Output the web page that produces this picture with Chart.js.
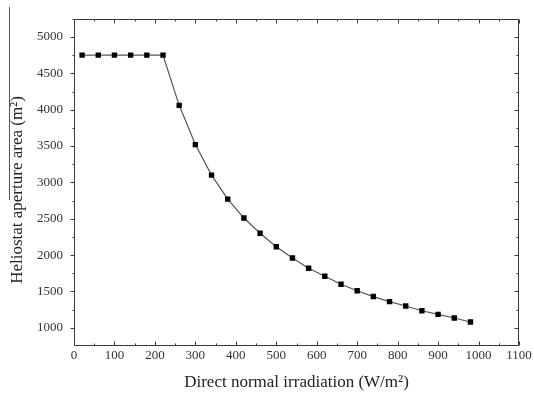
<!DOCTYPE html>
<html>
<head>
<meta charset="utf-8">
<script src="https://cdn.jsdelivr.net/npm/chart.js@4/dist/chart.umd.min.js"></script>
<style>
html,body{margin:0;padding:0;background:#fff;}
#wrap{width:534px;height:397px;position:relative;}
</style>
</head>
<body>
<div id="wrap"><canvas id="c" width="534" height="397"></canvas></div>
<script>
// Data
const dni = [20,60,100,140,180,220,260,300,340,380,420,460,500,540,580,620,660,700,740,780,820,860,900,940,980];
const area = [4750,4750,4750,4750,4750,4750,4060,3520,3100,2770,2510,2300,2115,1960,1820,1710,1600,1510,1430,1360,1300,1235,1185,1135,1080];
const xTicks = [0,100,200,300,400,500,600,700,800,900,1000,1100];
const yTicks = [1000,1500,2000,2500,3000,3500,4000,4500,5000];
const xTitle = 'Direct normal irradiation (W/m\u00B2)';
const yTitle = 'Heliostat aperture area (m\u00B2)';

const SERIF = '"Liberation Serif", "DejaVu Serif", serif';
const AXIS = '#3a3a3a';

const framePlugin = {
  id: 'frame',
  afterDraw(chart) {
    const ctx = chart.ctx;
    const a = chart.chartArea;
    const xs = chart.scales.x, ys = chart.scales.y;
    ctx.save();
    ctx.strokeStyle = AXIS;
    ctx.lineWidth = 1;
    const L = Math.round(a.left) + 0.5, R = Math.round(a.right) - 0.5;
    const T = Math.round(a.top) + 0.5, B = Math.round(a.bottom) - 0.5;
    ctx.beginPath();
    ctx.rect(L, T, R - L, B - T);
    ctx.stroke();
    ctx.beginPath();
    for (let v = xs.min; v <= xs.max; v += 50) {
      const px = Math.round(xs.getPixelForValue(v)) + 0.5;
      const len = (v % 100 === 0) ? 4 : 2;
      ctx.moveTo(px, B); ctx.lineTo(px, B - len);
      ctx.moveTo(px, T); ctx.lineTo(px, T + len);
    }
    for (let v = 1000; v <= ys.max; v += 250) {
      const py = Math.round(ys.getPixelForValue(v)) + 0.5;
      const len = (v % 500 === 0) ? 4 : 2;
      ctx.moveTo(L, py); ctx.lineTo(L - len, py);
      ctx.moveTo(R, py); ctx.lineTo(R - len, py);
    }
    ctx.stroke();
    ctx.strokeStyle = '#555';
    ctx.beginPath();
    ctx.moveTo(9.5, 7); ctx.lineTo(9.5, 200);
    ctx.stroke();
    ctx.fillStyle = '#222';
    ctx.font = '17px ' + SERIF;
    ctx.textAlign = 'center';
    ctx.textBaseline = 'middle';
    ctx.fillText(xTitle, (a.left + a.right) / 2, 383);
    ctx.translate(18, 190);
    ctx.rotate(-Math.PI / 2);
    ctx.fillText(yTitle, 0, 0);
    ctx.restore();
  }
};

new Chart(document.getElementById('c'), {
  type: 'line',
  data: {
    datasets: [{
      data: dni.map((x, i) => ({x: x, y: area[i]})),
      borderColor: '#555',
      borderWidth: 1.2,
      backgroundColor: '#000',
      pointBorderColor: '#000',
      pointBackgroundColor: '#000',
      pointStyle: 'rect',
      pointRadius: 3.8,
      pointBorderWidth: 0,
      tension: 0
    }]
  },
  options: {
    responsive: false,
    animation: false,
    devicePixelRatio: 1,
    layout: {padding: {left: 0, right: 15, top: 9, bottom: 0}},
    plugins: {legend: {display: false}, tooltip: {enabled: false}},
    scales: {
      x: {
        type: 'linear', min: 0, max: 1100,
        afterBuildTicks: s => { s.ticks = xTicks.map(v => ({value: v})); },
        afterFit: s => { s.height = 51; },
        grid: {display: false, drawTicks: false},
        border: {display: false},
        ticks: {padding: 2, color: '#333', font: {family: SERIF, size: 13}, maxRotation: 0, autoSkip: false, callback: v => String(v)}
      },
      y: {
        type: 'linear', min: 750, max: 5250,
        afterBuildTicks: s => { s.ticks = yTicks.map(v => ({value: v})); },
        afterFit: s => { s.width = 74; },
        grid: {display: false, drawTicks: false},
        border: {display: false},
        ticks: {padding: 11, color: '#333', font: {family: SERIF, size: 13}, autoSkip: false, callback: v => String(v)}
      }
    }
  },
  plugins: [framePlugin]
});
</script>
</body>
</html>
